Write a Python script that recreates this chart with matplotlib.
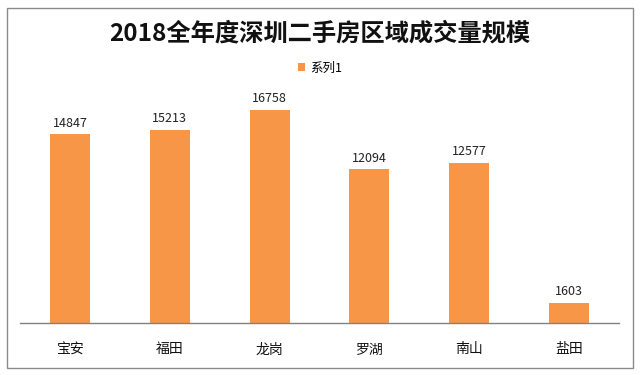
import matplotlib
matplotlib.use("Agg")
import matplotlib.pyplot as plt
from matplotlib.patches import Rectangle

plt.rcParams['font.family'] = ['Noto Sans CJK SC', 'DejaVu Sans']

districts = ["宝安", "福田", "龙岗", "罗湖", "南山", "盐田"]
volumes = [14847, 15213, 16758, 12094, 12577, 1603]
series_name = "系列1"
title = "2018全年度深圳二手房区域成交量规模"

bar_color = "#F79646"

fig = plt.figure(figsize=(6.4, 3.75), dpi=100)
ax = fig.add_axes([20 / 640, 1 - 323 / 375, 599 / 640, (323 - 69) / 375])

x = range(len(districts))
bars = ax.bar(x, volumes, width=0.4, color=bar_color, label=series_name)
for rect, v in zip(bars, volumes):
    ax.annotate(f"{v}", (rect.get_x() + rect.get_width() / 2, rect.get_height()),
                xytext=(0, 3.5), textcoords="offset points",
                ha="center", va="bottom", fontsize=9, color="#222222")

ax.set_xlim(-0.5, len(districts) - 0.5)
ax.set_ylim(0, 20000)
ax.set_xticks(list(x))
ax.set_xticklabels(districts, fontsize=10, color="#111111")
ax.tick_params(axis="x", length=0, pad=14)
ax.set_yticks([])
for side in ["top", "left", "right"]:
    ax.spines[side].set_visible(False)
ax.spines["bottom"].set_color("#808080")
ax.spines["bottom"].set_linewidth(1)

fig.text(0.5, 1 - 33 / 375, title, ha="center", va="center",
         fontsize=17.5, fontweight="bold", color="#111111")

fig.legend(handles=[bars], labels=[series_name], loc="center",
           bbox_to_anchor=(0.5, 1 - 68 / 375), frameon=False, fontsize=9,
           handlelength=0.6, handleheight=0.6, handletextpad=0.4)

fig.patches.append(Rectangle((7 / 640, 1 - 368 / 375), 626 / 640, 360 / 375,
                             transform=fig.transFigure, fill=False,
                             edgecolor="#8a8a8a", linewidth=1))

fig.savefig("out.png", dpi=100)
